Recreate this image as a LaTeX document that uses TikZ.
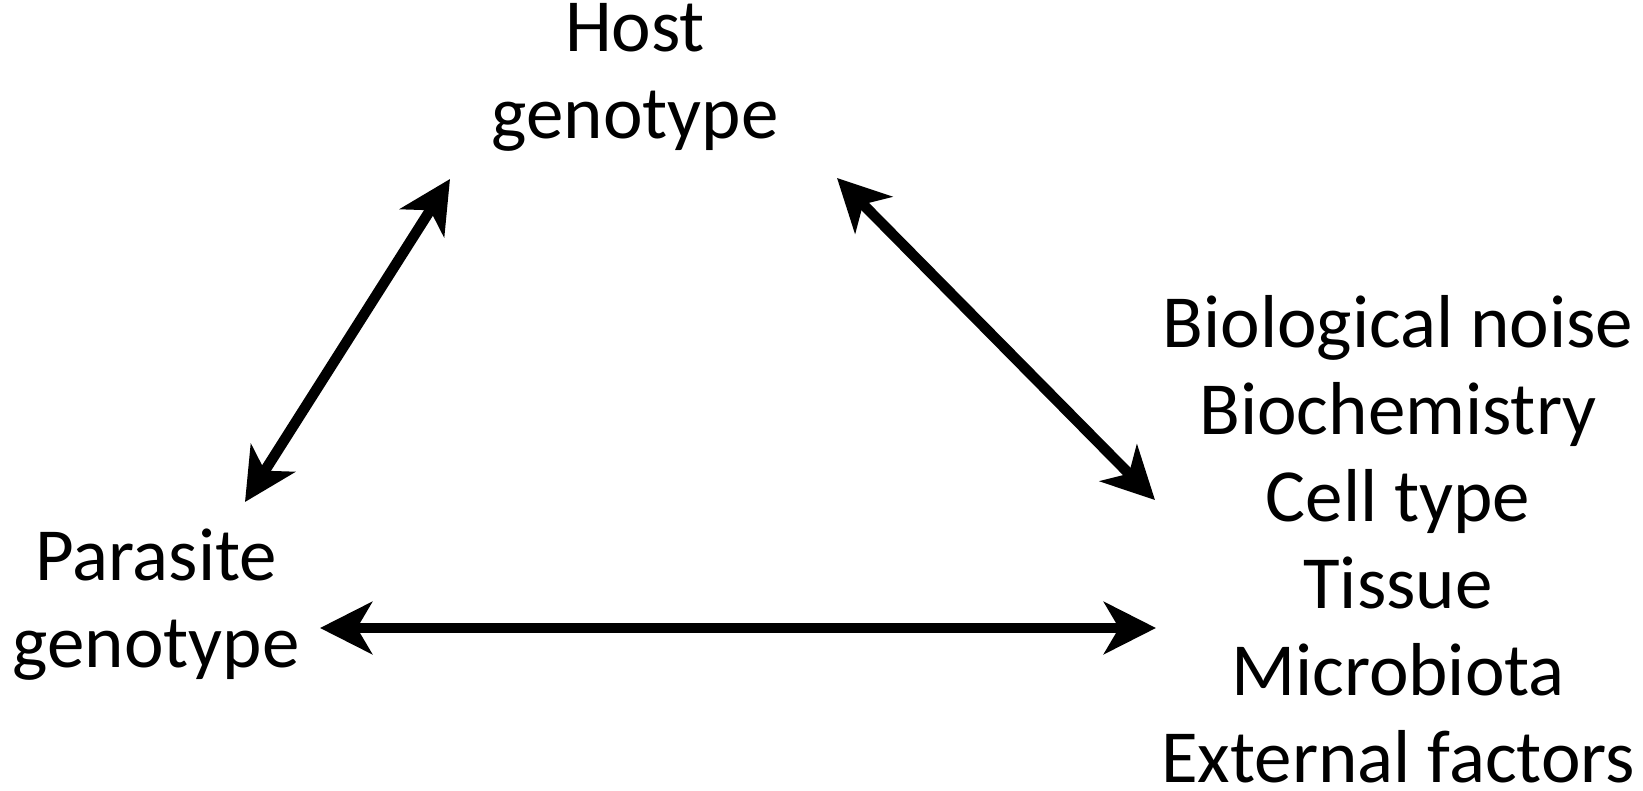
\documentclass[tikz,border=0pt]{standalone}
\usepackage{fontspec}
\setmainfont{Carlito}
\usetikzlibrary{arrows.meta}
\begin{document}
\begin{tikzpicture}[x=1pt,y=-1pt,
  lbl/.style={align=center,inner sep=0pt,anchor=base,font=\fontsize{75}{87}\selectfont},
  link/.style={line width=10.5pt,{Stealth[length=52pt,width=52pt,inset=15pt]}-{Stealth[length=52pt,width=52pt,inset=15pt]}}]
\useasboundingbox (0,0) rectangle (1643,791);
\node[lbl] (host) at (635,139) {Host\\genotype};
\node[lbl] (para) at (156,667) {Parasite\\genotype};
\node[lbl] (env) at (1398,782) {Biological noise\\Biochemistry\\Cell type\\Tissue\\Microbiota\\External factors};
\coordinate (hl) at (450,179);
\coordinate (hr) at (837,178);
\coordinate (pt) at (245,502);
\coordinate (pr) at (320,628);
\coordinate (et) at (1155,500);
\coordinate (el) at (1156,628);
\draw[link] (hl) -- (pt);
\draw[link] (hr) -- (et);
\draw[link] (pr) -- (el);
\end{tikzpicture}
\end{document}
